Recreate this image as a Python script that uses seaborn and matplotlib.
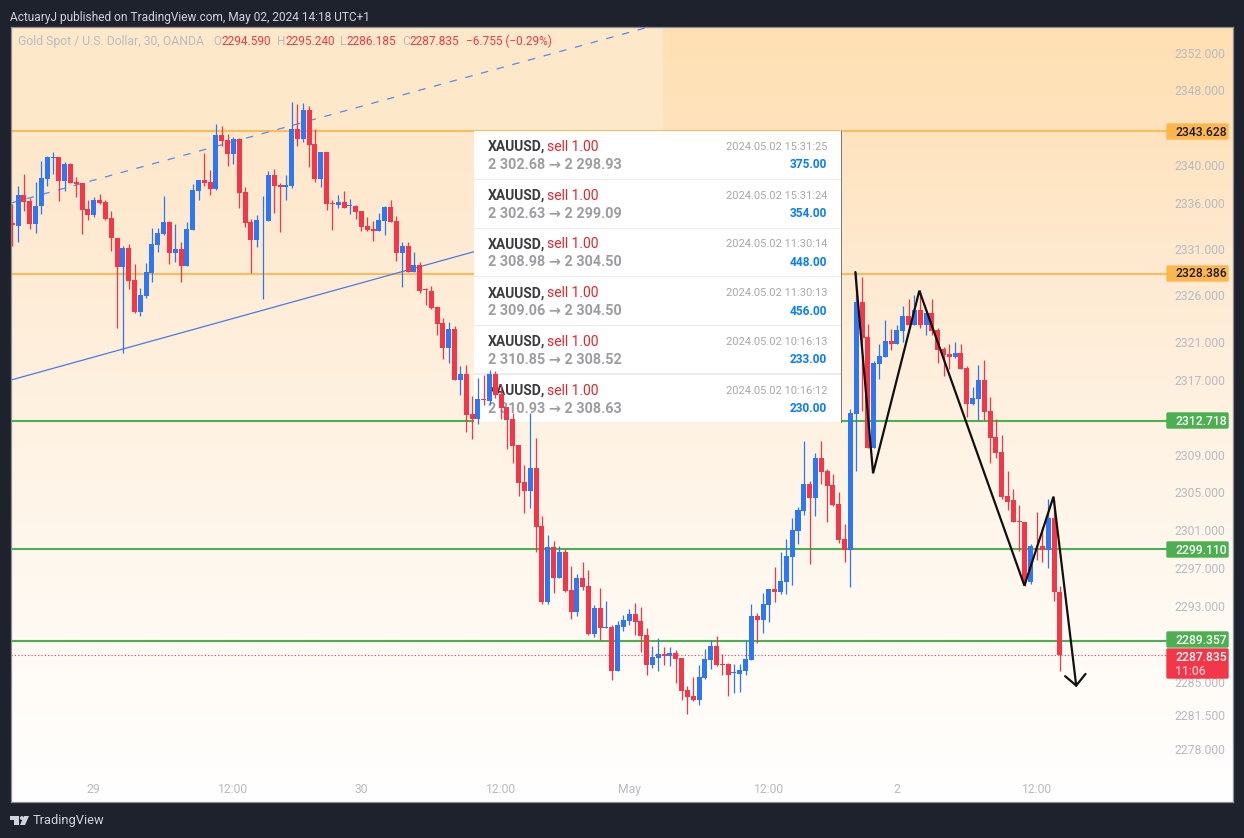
import numpy as np
import pandas as pd
import seaborn as sns
import matplotlib.pyplot as plt
from matplotlib.patches import Rectangle, Polygon, Circle, FancyBboxPatch
from matplotlib.transforms import Affine2D

# XAUUSD 30 min candles
opens = [2333.8, 2333.5, 2336.8, 2336.2, 2333.7, 2335.6, 2338.5, 2340.8, 2340.9, 2338.3,
         2340.1, 2338.2, 2338.1, 2335.3, 2334.7, 2336.3, 2336.1, 2334.4, 2332.2, 2329.2,
         2331.2, 2327.8, 2324.4, 2326.1, 2328.5, 2331.5, 2332.7, 2333.9, 2330.6, 2331.1,
         2329.3, 2333.1, 2337.2, 2338.4, 2338.2, 2337.4, 2343.2, 2342.7, 2341.2, 2342.8,
         2337.1, 2333.9, 2332.0, 2334.1, 2334.0, 2338.9, 2337.9, 2337.7, 2337.8, 2343.8,
         2342.8, 2345.9, 2342.2, 2338.5, 2341.4, 2336.0, 2335.7, 2336.1, 2335.6, 2335.6,
         2335.1, 2333.5, 2333.2, 2333.0, 2334.0, 2335.5, 2334.0, 2330.6, 2331.4, 2328.6,
         2329.4, 2326.8, 2326.6, 2324.9, 2323.2, 2320.5, 2322.5, 2317.1, 2317.8, 2313.5,
         2313.0, 2315.1, 2314.9, 2317.8, 2315.6, 2314.2, 2313.0, 2310.2, 2306.3, 2305.3,
         2307.8, 2301.6, 2293.5, 2299.3, 2296.0, 2298.8, 2294.8, 2292.4, 2296.1, 2295.2,
         2290.1, 2292.9, 2290.7, 2290.8, 2286.1, 2290.8, 2291.5, 2292.2, 2291.5, 2290.0,
         2286.8, 2287.5, 2288.0, 2287.7, 2288.1, 2287.5, 2284.1, 2283.5, 2283.1, 2285.4,
         2287.3, 2288.8, 2286.9, 2286.9, 2285.9, 2285.8, 2286.2, 2287.3, 2292.0, 2291.6,
         2293.2, 2294.9, 2294.6, 2295.6, 2298.3, 2301.1, 2303.2, 2306.1, 2304.6, 2308.8,
         2307.4, 2306.0, 2303.9, 2300.2, 2299.0, 2313.5, 2325.4, 2321.7, 2309.9, 2318.8,
         2319.6, 2321.3, 2321.0, 2322.3, 2323.9, 2323.0, 2324.6, 2323.0, 2324.3, 2322.4,
         2320.4, 2319.9, 2319.6, 2320.0, 2318.4, 2314.6, 2315.1, 2317.1, 2313.8, 2311.1,
         2309.5, 2304.8, 2304.3, 2302.1, 2302.0, 2295.6, 2299.4, 2299.5, 2299.0, 2302.4,
         2294.59]
highs = [2335.9, 2337.8, 2339.0, 2336.5, 2338.2, 2340.4, 2341.0, 2341.4, 2340.9, 2340.3,
         2340.2, 2338.7, 2338.1, 2336.3, 2336.6, 2336.9, 2336.3, 2335.1, 2332.2, 2331.4,
         2331.6, 2329.5, 2326.9, 2329.6, 2333.3, 2333.3, 2336.7, 2334.0, 2333.7, 2331.8,
         2333.9, 2338.0, 2338.4, 2341.3, 2339.5, 2344.4, 2344.2, 2343.3, 2343.0, 2342.9,
         2337.7, 2334.3, 2334.7, 2336.7, 2339.4, 2339.6, 2338.1, 2338.9, 2346.7, 2346.5,
         2346.6, 2346.3, 2343.8, 2341.4, 2341.4, 2336.3, 2336.8, 2337.2, 2336.4, 2335.7,
         2335.1, 2334.5, 2334.0, 2334.9, 2335.6, 2336.3, 2334.6, 2331.8, 2331.8, 2330.7,
         2329.7, 2326.9, 2327.1, 2325.0, 2323.7, 2323.3, 2322.9, 2318.6, 2318.7, 2315.4,
         2317.3, 2317.7, 2318.2, 2318.1, 2316.7, 2314.3, 2313.6, 2310.2, 2308.1, 2313.6,
         2311.0, 2302.7, 2300.6, 2300.0, 2299.5, 2299.1, 2297.3, 2296.5, 2297.7, 2296.9,
         2293.2, 2295.0, 2293.6, 2291.1, 2291.5, 2292.1, 2292.8, 2293.4, 2293.0, 2290.7,
         2288.8, 2289.7, 2288.7, 2288.7, 2288.4, 2287.5, 2284.6, 2285.5, 2286.8, 2288.5,
         2289.4, 2289.9, 2288.0, 2287.0, 2286.9, 2286.9, 2289.5, 2293.3, 2292.3, 2294.5,
         2294.9, 2297.2, 2298.8, 2300.2, 2302.4, 2303.6, 2310.6, 2306.4, 2309.3, 2310.6,
         2307.6, 2307.1, 2305.2, 2301.8, 2314.0, 2328.6, 2328.1, 2323.1, 2319.1, 2320.9,
         2323.5, 2322.6, 2323.0, 2325.0, 2325.7, 2326.2, 2326.7, 2324.6, 2325.7, 2322.7,
         2320.6, 2320.9, 2321.2, 2320.9, 2318.6, 2316.4, 2318.7, 2319.3, 2315.3, 2313.0,
         2311.3, 2307.4, 2305.5, 2303.8, 2302.0, 2299.7, 2303.1, 2301.5, 2304.5, 2304.4,
         2295.24]
lows = [2331.4, 2331.8, 2335.1, 2333.2, 2332.8, 2334.8, 2337.8, 2339.0, 2336.2, 2337.2,
        2338.1, 2336.6, 2332.7, 2334.2, 2334.5, 2335.8, 2334.2, 2330.9, 2322.7, 2320.0,
        2326.8, 2324.3, 2323.9, 2325.9, 2327.6, 2330.7, 2332.6, 2329.5, 2329.7, 2327.6,
        2329.3, 2333.1, 2336.3, 2337.8, 2336.8, 2337.3, 2342.0, 2339.9, 2340.1, 2335.4,
        2333.4, 2328.5, 2331.3, 2325.7, 2334.0, 2334.9, 2332.9, 2336.3, 2337.6, 2342.0,
        2342.5, 2339.8, 2338.2, 2337.7, 2335.2, 2333.1, 2335.4, 2335.4, 2334.8, 2334.3,
        2333.0, 2333.0, 2331.9, 2333.0, 2332.6, 2333.9, 2329.8, 2327.0, 2328.6, 2328.6,
        2326.4, 2325.1, 2324.7, 2321.9, 2319.4, 2318.9, 2317.1, 2315.5, 2311.6, 2310.8,
        2312.4, 2314.5, 2314.5, 2315.2, 2313.0, 2309.8, 2308.3, 2304.8, 2303.0, 2303.5,
        2298.8, 2293.3, 2293.3, 2294.5, 2296.0, 2294.6, 2291.7, 2292.0, 2294.8, 2290.0,
        2289.8, 2289.4, 2290.7, 2285.2, 2286.1, 2290.4, 2291.1, 2290.0, 2288.2, 2285.7,
        2286.5, 2286.1, 2286.8, 2286.7, 2284.9, 2283.1, 2281.6, 2283.0, 2282.5, 2285.3,
        2286.4, 2286.7, 2285.7, 2283.5, 2283.8, 2283.9, 2285.7, 2287.3, 2289.1, 2290.2,
        2291.4, 2293.5, 2294.3, 2294.3, 2295.3, 2299.7, 2302.8, 2297.5, 2302.7, 2306.1,
        2302.0, 2303.7, 2299.8, 2297.8, 2295.1, 2307.4, 2313.8, 2309.9, 2309.9, 2317.2,
        2319.6, 2320.3, 2321.0, 2321.2, 2323.0, 2323.0, 2322.7, 2321.9, 2321.9, 2318.9,
        2317.6, 2318.3, 2319.5, 2318.3, 2313.2, 2314.5, 2312.9, 2312.9, 2308.3, 2308.8,
        2304.5, 2303.3, 2302.0, 2298.9, 2295.2, 2295.4, 2298.0, 2297.7, 2297.1, 2293.6,
        2286.185]
closes = [2333.6, 2336.8, 2336.1, 2333.7, 2335.6, 2338.6, 2340.9, 2340.9, 2338.3, 2340.1,
          2338.1, 2338.0, 2335.2, 2334.7, 2336.3, 2336.0, 2334.3, 2332.2, 2329.2, 2331.2,
          2327.7, 2324.4, 2326.2, 2328.6, 2331.6, 2332.8, 2333.9, 2330.6, 2331.1, 2329.3,
          2333.2, 2337.3, 2338.4, 2338.1, 2337.4, 2343.2, 2342.6, 2341.2, 2342.8, 2337.0,
          2333.8, 2332.0, 2334.2, 2334.2, 2338.9, 2337.8, 2337.7, 2337.9, 2343.8, 2342.8,
          2345.9, 2342.1, 2338.5, 2341.4, 2335.9, 2335.9, 2336.1, 2335.4, 2335.7, 2335.0,
          2333.4, 2333.1, 2333.0, 2334.1, 2335.5, 2333.9, 2330.6, 2331.4, 2328.6, 2329.4,
          2326.6, 2326.7, 2324.8, 2323.1, 2320.5, 2322.5, 2317.1, 2317.8, 2313.4, 2313.0,
          2315.1, 2315.0, 2317.8, 2315.5, 2314.1, 2312.9, 2310.1, 2306.2, 2305.3, 2307.8,
          2301.5, 2293.5, 2299.3, 2296.0, 2298.8, 2294.7, 2292.4, 2296.1, 2295.1, 2290.1,
          2292.9, 2290.7, 2290.8, 2286.1, 2291.0, 2291.6, 2292.2, 2291.4, 2289.9, 2286.8,
          2287.6, 2288.0, 2287.7, 2288.1, 2287.4, 2284.0, 2283.4, 2283.1, 2285.5, 2287.4,
          2288.8, 2286.8, 2286.8, 2285.7, 2286.0, 2286.3, 2287.4, 2292.0, 2291.6, 2293.3,
          2294.9, 2294.6, 2295.7, 2298.4, 2301.2, 2303.3, 2306.1, 2304.6, 2308.8, 2307.3,
          2305.8, 2303.8, 2300.1, 2299.0, 2313.6, 2325.4, 2321.6, 2309.9, 2318.9, 2319.7,
          2321.3, 2321.0, 2322.4, 2323.9, 2323.0, 2324.6, 2323.0, 2324.3, 2322.3, 2320.3,
          2319.8, 2319.6, 2320.0, 2318.3, 2314.6, 2315.2, 2317.1, 2313.7, 2311.0, 2309.4,
          2304.7, 2304.1, 2302.0, 2302.0, 2295.6, 2299.5, 2299.3, 2299.0, 2302.4, 2294.6,
          2287.835]

orange_levels = [2343.628, 2328.386]
green_levels = [2312.718, 2299.110, 2289.357]
last_price = 2287.835

# the axis labels are rounded, the ticks sit a little off the printed number
y_ticks = [2351.92, 2347.98, 2340.0, 2335.96, 2331.06, 2326.17, 2321.16, 2317.12, 2309.14, 2305.2, 2301.16,
           2297.11, 2293.07, 2284.98, 2281.47, 2277.85]
y_labels = ['2352.000', '2348.000', '2340.000', '2336.000', '2331.000', '2326.000', '2321.000', '2317.000',
            '2309.000', '2305.000', '2301.000', '2297.000', '2293.000', '2285.000', '2281.500', '2278.000']
x_ticks = [14, 38, 60, 84, 106, 130, 152, 176]
x_labels = ['29', '12:00', '30', '12:00', 'May', '12:00', '2', '12:00']

# trend lines and the drawn zigzag, bar number / price
trend_x = [-0.22, 85]
trend_y = [2317.12, 2331.75]
channel_x = [-0.22, 110]
channel_y = [2335.96, 2354.80]
zig_x = [144.85, 147.9, 155.85, 173.9, 178.9, 182.8]
zig_y = [2328.61, 2307.19, 2326.63, 2295.24, 2304.71, 2284.6]
head_x = [180.9, 182.8, 184.4]
head_y = [2285.6, 2284.6, 2285.84]

# trades card
trade_prices = ['2 302.68 → 2 298.93', '2 302.63 → 2 299.09', '2 308.98 → 2 304.50',
                '2 309.06 → 2 304.50', '2 310.85 → 2 308.52', '2 310.93 → 2 308.63']
trade_times = ['2024.05.02 15:31:25', '2024.05.02 15:31:24', '2024.05.02 11:30:14',
               '2024.05.02 11:30:13', '2024.05.02 10:16:13', '2024.05.02 10:16:12']
trade_profit = ['375.00', '354.00', '448.00', '456.00', '233.00', '230.00']

BG = '#1E222D'
RED = '#F33749'
BLUE = '#2E77F4'
ORANGE = '#FFB74D'
GREEN = '#4CAF50'
AXIS = '#B8BAC3'

sns.set_theme(style='white')
plt.rcParams['font.family'] = ['Roboto', 'DejaVu Sans']

df = pd.DataFrame({'open': opens, 'high': highs, 'low': lows, 'close': closes})
df['bar'] = np.arange(len(df))
df['body'] = (df['close'] - df['open']).abs()
df['bottom'] = df[['open', 'close']].min(axis=1)
up = df[df['close'] >= df['open']]
down = df[df['close'] < df['open']]

fig = plt.figure(figsize=(12.44, 8.38), dpi=100, facecolor=BG)
ax = fig.add_axes([11 / 1244, 1 - 802 / 838, 1222 / 1244, 775 / 838])
px = Affine2D().scale(1 / 1244, -1 / 838).translate(0, 1) + fig.transFigure

# background gradient, a bit stronger on the right above the card
rows = np.array([27, 131, 250, 420, 600, 802])
left_cols = np.array([[255, 232, 202], [254, 232, 203], [254, 235, 211], [254, 242, 226], [255, 249, 241], [255, 255, 255]])
right_cols = np.array([[255, 224, 179], [255, 227, 189], [254, 233, 207], [254, 242, 226], [255, 249, 241], [255, 255, 255]])
yy = np.arange(27, 802)
left_img = np.stack([np.interp(yy, rows, left_cols[:, c]) for c in range(3)], axis=1)
right_img = np.stack([np.interp(yy, rows, right_cols[:, c]) for c in range(3)], axis=1)
img = np.zeros((775, 1222, 3))
img[:, :652] = left_img[:, None, :]
img[:, 652:] = right_img[:, None, :]
ax.imshow(img / 255, extent=[0, 1, 0, 1], transform=ax.transAxes, aspect='auto', zorder=0, interpolation='nearest')

# levels
line_end = 1170 / 1222
for lev in orange_levels:
    ax.axhline(lev, xmax=line_end, color='#FDBB5C', lw=1.5, zorder=2)
for lev in green_levels:
    ax.axhline(lev, xmax=line_end, color=GREEN, lw=1.5, zorder=2)
ax.axhline(last_price, xmax=line_end, color=RED, lw=0.8, ls=(0, (1, 2)), zorder=2)

# trend lines
ax.plot(trend_x, trend_y, color='#4D78E8', lw=0.9, zorder=2)
ax.plot(channel_x, channel_y, color='#5C86F0', lw=0.9, ls=(0, (6, 7)), zorder=2)

# trades card sits between the lines and the candles
ax.add_patch(Rectangle((474, 131), 367, 291, transform=px, facecolor='white', edgecolor='none', zorder=2.5))
for i in range(1, 6):
    ax.add_patch(Rectangle((474, 130.5 + 48.6 * i), 367, 1.2, transform=px, facecolor='#ECECEE', edgecolor='none', zorder=2.55))
ax.add_patch(Rectangle((840.5, 131), 1, 292, transform=px, facecolor='#77797F', edgecolor='none', zorder=2.55))
for i in range(6):
    y1 = 147 + 48.7 * i
    y2 = 165 + 48.7 * i
    ax.text(488, y1, 'XAUUSD,', transform=px, fontsize=10, fontweight='bold', color='#3C3C40', va='center', zorder=2.6)
    ax.text(547, y1, 'sell 1.00', transform=px, fontsize=10, color='#E2252D', va='center', zorder=2.6)
    ax.text(488, y2, trade_prices[i], transform=px, fontsize=10.4, fontweight='bold', color='#9C9CA2', va='center', zorder=2.6)
    ax.text(827, y1, trade_times[i], transform=px, fontsize=8, color='#A8A8AC', va='center', ha='right', zorder=2.6)
    ax.text(827, y2, trade_profit[i], transform=px, fontsize=8.6, fontweight='bold', color='#0A7CFF', va='center', ha='right', zorder=2.6)

# candles
ax.vlines(up['bar'], up['low'], up['high'], colors=BLUE, lw=0.9, zorder=2.9)
ax.vlines(down['bar'], down['low'], down['high'], colors=RED, lw=0.9, zorder=2.9)
sns.barplot(data=up, x='bar', y='body', bottom=up['bottom'].values, native_scale=True, color=BLUE, saturation=1,
            width=0.86, errorbar=None, linewidth=0, zorder=3, ax=ax)
sns.barplot(data=down, x='bar', y='body', bottom=down['bottom'].values, native_scale=True, color=RED, saturation=1,
            width=0.86, errorbar=None, linewidth=0, zorder=3, ax=ax)

# zigzag
ax.plot(zig_x, zig_y, color='#101010', lw=1.6, zorder=4, solid_joinstyle='miter')
ax.plot(head_x, head_y, color='#101010', lw=1.6, zorder=4, solid_joinstyle='miter')

ax.set_xlim(-0.22, 209.74)
ax.set_ylim(2272.21, 2354.69)
ax.set_xlabel('')
ax.set_ylabel('')
ax.set_xticks(x_ticks)
ax.set_xticklabels(x_labels)
ax.yaxis.tick_right()
ax.set_yticks(y_ticks)
ax.set_yticklabels(y_labels)
ax.tick_params(axis='y', length=0, pad=-42.2, labelsize=8.7, labelcolor=AXIS)
ax.tick_params(axis='x', length=0, pad=-14, labelsize=8.7, labelcolor=AXIS)
for s in ax.spines.values():
    s.set_color('#8A8D96')
    s.set_linewidth(0.9)

# price tags on the right
def tag(y0, h, face):
    ax.add_patch(FancyBboxPatch((1167, y0 + 1), 61, h - 2, boxstyle='round,pad=0,rounding_size=1', mutation_scale=1,
                                transform=px, facecolor=face, edgecolor=face, lw=1, zorder=5, clip_on=False))

tag(123, 17, ORANGE)
tag(265, 17, ORANGE)
tag(412, 17, GREEN)
tag(541, 17, GREEN)
tag(631, 17, GREEN)
tag(648, 31, RED)
for y, lab, col in [(132, '2343.628', '#131722'), (273.5, '2328.386', '#131722'), (421, '2312.718', 'white'),
                    (550, '2299.110', 'white'), (640, '2289.357', 'white'), (657, '2287.835', 'white'), (671, '11:06', '#FBC4CA')]:
    ax.text(1175, y, lab, transform=px, fontsize=8.7, fontweight='medium', color=col, va='center', ha='left', zorder=6, clip_on=False)

# header and legend
ax.text(10, 17.5, 'ActuaryJ published on TradingView.com, May 02, 2024 14:18 UTC+1', transform=px, fontsize=8.55,
        color='#D1D4DC', va='center', clip_on=False)
ax.text(18, 41.5, 'Gold Spot / U.S. Dollar, 30, OANDA', transform=px, fontsize=8.8, color='#B8BAC3', va='center', zorder=6)
for x, lab, col in [(213, 'O', '#B8BAC3'), (221.5, '2294.590', RED), (276.5, 'H', '#B8BAC3'), (285, '2295.240', RED),
                    (340, 'L', '#B8BAC3'), (346.5, '2286.185', RED), (402.5, 'C', '#B8BAC3'), (409.5, '2287.835', RED),
                    (465.5, '−6.755 (−0.29%)', RED)]:
    ax.text(x, 41.5, lab, transform=px, fontsize=8.5, color=col, va='center', zorder=6)

# logo at the bottom
logo = '#D1D4DC'
fig.add_artist(Polygon([(10, 816), (19, 816), (19, 825), (14, 825), (14, 820), (10, 820)], closed=True, transform=px, facecolor=logo, edgecolor='none'))
fig.add_artist(Circle((21.8, 818), 1.9, transform=px, facecolor=logo, edgecolor='none'))
fig.add_artist(Polygon([(24, 816), (29, 816), (25, 825), (20, 825)], closed=True, transform=px, facecolor=logo, edgecolor='none'))
fig.text(33, 820.5, 'TradingView', transform=px, fontsize=9.3, color='#D1D4DC', va='center')

fig.savefig('out.png', dpi=100, facecolor=BG)
